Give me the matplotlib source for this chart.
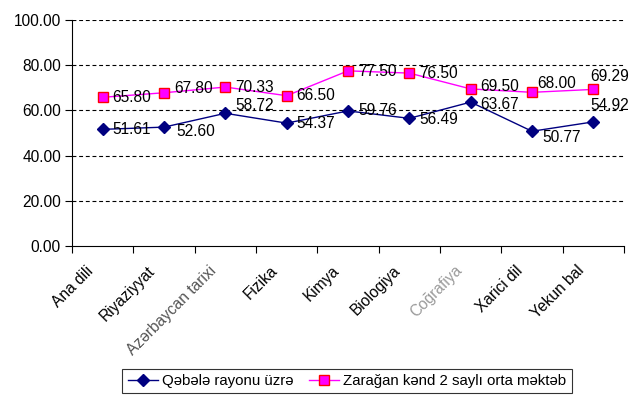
import matplotlib
matplotlib.use("Agg")
import matplotlib.pyplot as plt
import numpy as np

categories = ["Ana dili", "Riyaziyyat", "Azərbaycan tarixi", "Fizika", "Kimya",
              "Biologiya", "Coğrafiya", "Xarici dil", "Yekun bal"]
qebele = [51.61, 52.60, 58.72, 54.37, 59.76, 56.49, 63.67, 50.77, 54.92]
zaragan = [65.80, 67.80, 70.33, 66.50, 77.50, 76.50, 69.50, 68.00, 69.29]
series_names = ["Qəbələ rayonu üzrə", "Zarağan kənd 2 saylı orta məktəb"]
yticks = [0, 20, 40, 60, 80, 100]

# label offsets in pixels (dx, dy)
off_q = [(10, 0), (12, -4), (10, 8), (10, 0), (10, 0), (10, -1), (10, -2), (10, -6), (-3, 16)]
off_z = [(10, 0), (10, 4), (10, 0), (10, 0), (10, -1), (10, 0), (10, 2), (5, 9), (-3, 13)]

plt.rcParams['font.family'] = ['Liberation Sans', 'DejaVu Sans']
FS = 11.2

fig = plt.figure(figsize=(6.29, 3.98), dpi=100)
ax = fig.add_axes([72/629, 1-246/398, (624-72)/629, (246-20)/398])

x = np.arange(len(categories))
navy = "#000080"
ax.plot(x, qebele, color=navy, lw=1, marker='D', ms=6.5, mfc=navy, mec=navy,
        label=series_names[0], zorder=3, clip_on=False)
ax.plot(x, zaragan, color="#FF00FF", lw=1, marker='s', ms=7.5, mfc="#FF00FF",
        mec="#FF0000", mew=1, label=series_names[1], zorder=3, clip_on=False)

for xi, v, (dx, dy) in zip(x, qebele, off_q):
    ax.annotate(f"{v:.2f}", (xi, v), xytext=(dx, dy), textcoords='offset pixels',
                ha='left', va='center', fontsize=FS, color='black', zorder=4)
for xi, v, (dx, dy) in zip(x, zaragan, off_z):
    ax.annotate(f"{v:.2f}", (xi, v), xytext=(dx, dy), textcoords='offset pixels',
                ha='left', va='center', fontsize=FS, color='black', zorder=4)

ax.set_xlim(-0.5, len(categories) - 0.5)
ax.set_ylim(0, 100)
ax.set_yticks(yticks)
ax.set_yticklabels([f"{t:.2f}" for t in yticks], fontsize=FS)
for t in yticks[1:]:
    ax.axhline(t, color='black', lw=0.8, ls=(0, (3.5, 2.5)), zorder=1)

ax.set_xticks(np.arange(-0.5, len(categories) + 0.5, 1))
ax.set_xticklabels([])
ax.tick_params(axis='x', direction='out', length=5, width=0.8)
ax.tick_params(axis='y', direction='out', length=5, width=0.8, pad=3)
for s in ['top', 'right']:
    ax.spines[s].set_visible(False)
for s in ['left', 'bottom']:
    ax.spines[s].set_linewidth(0.8)

label_colors = ['black', 'black', '#555555', 'black', 'black', 'black', '#9a9a9a', 'black', 'black']
for xi, name, c in zip(x, categories, label_colors):
    ax.annotate(name, (xi, 0), xytext=(-6, -17), textcoords='offset pixels',
                rotation=45, ha='right', va='top', fontsize=FS, color=c,
                annotation_clip=False)

leg = fig.legend(loc='center', bbox_to_anchor=(347/629, 1-381/398), ncol=2,
                 fontsize=FS - 0.4, frameon=True, fancybox=False, edgecolor='black',
                 handlelength=2.0, handletextpad=0.3, columnspacing=1.0,
                 borderpad=0.35)
leg.get_frame().set_linewidth(0.8)

fig.savefig("out.png", dpi=100)
